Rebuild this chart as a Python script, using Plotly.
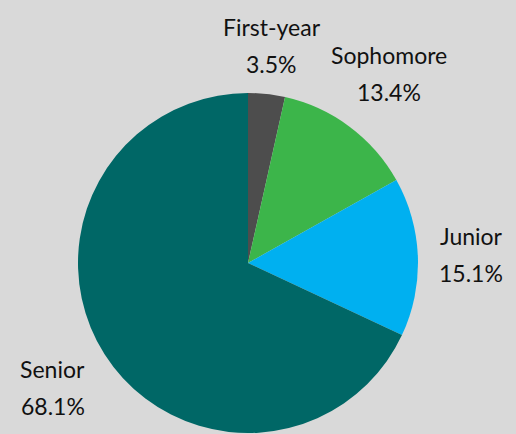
import math
import plotly.graph_objects as go

labels = ["First-year", "Sophomore", "Junior", "Senior"]
values = [3.5, 13.4, 15.1, 68.1]
pct_text = [f"{v:.1f}%" for v in values]
colors = ["#4d4d4d", "#3cb54a", "#00b0f0", "#006766"]

W, H = 516, 434
cx, cy, r = 248, 263, 170
FONT = "Lato, sans-serif"
FS = 23
PITCH = 37       # baseline-to-baseline distance of the two label lines
GAP = 15         # gap between pie edge and label block
LAB_W = 10.8     # approx. px per letter
PCT_W = 15.0     # approx. px per digit/symbol

fig = go.Figure(go.Pie(
    labels=labels,
    values=values,
    sort=False,
    direction="clockwise",
    rotation=0,
    marker=dict(colors=colors, line=dict(width=0)),
    textinfo="none",
    domain=dict(x=[(cx - r) / W, (cx + r) / W], y=[(H - cy - r) / H, (H - cy + r) / H]),
    showlegend=False,
    hoverinfo="label+value",
))

# label blocks placed outside each slice along its mid-angle (derived from the values)
total = sum(values)
cum = 0.0
annotations = []
for lab, val, pt in zip(labels, values, pct_text):
    mid = (cum + val / 2) / total * 2 * math.pi
    cum += val
    ux, uy = math.sin(mid), -math.cos(mid)          # pixel direction (y down)
    w = max(LAB_W * len(lab), PCT_W * len(pt))
    h = PITCH + 19
    R = r + GAP + abs(ux) * w / 2 + abs(uy) * h / 2
    bx, by = cx + ux * R, cy + uy * R               # block centre in pixels
    for line, dy in ((lab, -PITCH / 2), (pt, PITCH / 2)):
        annotations.append(dict(
            x=bx / W, y=1 - (by + dy) / H, xref="paper", yref="paper",
            text=line, showarrow=False, xanchor="center", yanchor="middle",
            font=dict(family=FONT, size=FS, color="#111111", weight=400),
        ))

fig.update_layout(
    width=W, height=H,
    margin=dict(l=0, r=0, t=0, b=0),
    paper_bgcolor="#d9d9d9",
    plot_bgcolor="#d9d9d9",
    annotations=annotations,
)
fig.write_html(
    "out.html",
    config={"displayModeBar": False},
    post_script="document.body.style.margin='0';document.body.style.overflow='hidden';",
)
